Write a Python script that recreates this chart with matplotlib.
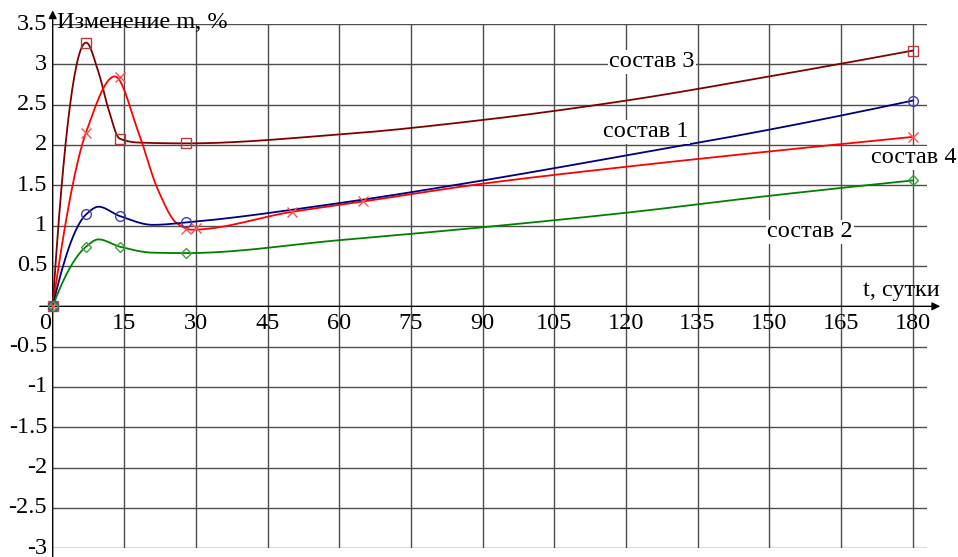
import numpy as np
import matplotlib
matplotlib.use("Agg")
import matplotlib.pyplot as plt

# measured points (days, mass change %) - shown with markers
t1 = [0, 7, 14, 28, 180]
m1 = [0, 1.14, 1.12, 1.04, 2.55]

t2 = [0, 7, 14, 28, 180]
m2 = [0, 0.73, 0.73, 0.66, 1.56]

t3 = [0, 7, 14, 28, 180]
m3 = [0, 3.27, 2.08, 2.02, 3.17]

t4 = [0, 7, 14, 28, 30, 50, 65, 180]
m4 = [0, 2.15, 2.84, 0.96, 0.97, 1.17, 1.30, 2.10]

# values
c1_t = [0, 7, 9.6, 14, 21, 28, 60, 90, 120, 150, 180]
c1_m = [0, 1.14, 1.235, 1.12, 1.01, 1.04, 1.28, 1.56, 1.87, 2.19, 2.55]

c2_t = [0, 7, 9.6, 14, 21, 28, 60, 90, 120, 150, 180]
c2_m = [0, 0.74, 0.83, 0.74, 0.665, 0.66, 0.82, 0.98, 1.16, 1.37, 1.56]

c3_t = [0, 7, 9.6, 11.7, 14, 18, 28, 60, 90, 120, 150, 180]
c3_m = [0, 3.27, 2.9, 2.44, 2.08, 2.03, 2.02, 2.13, 2.31, 2.55, 2.85, 3.17]

c4_t = [0, 7, 13, 18, 22, 26, 29, 50, 65, 90, 120, 150, 180]
c4_m = [0, 2.16, 2.85, 2.15, 1.45, 1.03, 0.95, 1.17, 1.30, 1.52, 1.73, 1.92, 2.10]

xticks = [15, 30, 45, 60, 75, 90, 105, 120, 135, 150, 165, 180]
yticks = [3.5, 3, 2.5, 2, 1.5, 1, 0.5, -0.5, -1, -1.5, -2, -2.5, -3]
ylabels = ["3.5", "3", "2.5", "2", "1.5", "1", "0.5",
           "-0.5", "-1", "-1.5", "-2", "-2.5", "-3"]


def end_slope(h0, h1, d0, d1):
    s = ((2 * h0 + h1) * d0 - h0 * d1) / (h0 + h1)
    if np.sign(s) != np.sign(d0):
        s = 0.0
    elif np.sign(d0) != np.sign(d1) and abs(s) > 3 * abs(d0):
        s = 3 * d0
    return s


def smooth(x, y, n=800):
    "monotone cubic (pchip) curve through the points"
    x = np.asarray(x, float)
    y = np.asarray(y, float)
    h = np.diff(x)
    delta = np.diff(y) / h
    d = np.zeros(len(x))
    for k in range(1, len(x) - 1):
        if delta[k - 1] * delta[k] > 0:
            w1 = 2 * h[k] + h[k - 1]
            w2 = h[k] + 2 * h[k - 1]
            d[k] = (w1 + w2) / (w1 / delta[k - 1] + w2 / delta[k])
    d[0] = end_slope(h[0], h[1], delta[0], delta[1])
    d[-1] = end_slope(h[-1], h[-2], delta[-1], delta[-2])
    xs = np.linspace(x[0], x[-1], n)
    j = np.clip(np.searchsorted(x, xs) - 1, 0, len(x) - 2)
    hj = h[j]
    s = (xs - x[j]) / hj
    h00 = 2 * s ** 3 - 3 * s ** 2 + 1
    h10 = s ** 3 - 2 * s ** 2 + s
    h01 = -2 * s ** 3 + 3 * s ** 2
    h11 = s ** 3 - s ** 2
    ys = h00 * y[j] + h10 * hj * d[j] + h01 * y[j + 1] + h11 * hj * d[j + 1]
    return xs, ys


plt.rcParams['font.family'] = ['Liberation Serif', 'DejaVu Serif']

fig = plt.figure(figsize=(9.58, 5.57), dpi=100)
ax = fig.add_axes([0.055, 0.0156, 0.9125, 0.9413])
ax.set_xlim(0, 183)
ax.set_ylim(-3, 3.5)
for s in ax.spines.values():
    s.set_visible(False)

# grid
for xv in xticks:
    ax.axvline(xv, color='0.3', lw=1.0, zorder=1)
for yv in yticks:
    ax.axhline(yv, color='0.3', lw=1.0, zorder=1)

ax.set_xticks([])
ax.set_yticks([])

# axes with arrows
ax.annotate('', xy=(185.8, 0), xytext=(-2.7, 0),
            arrowprops=dict(arrowstyle='-|>', color='black', lw=1.0,
                            mutation_scale=12, shrinkA=0, shrinkB=0),
            annotation_clip=False, zorder=2)
ax.annotate('', xy=(0, 3.67), xytext=(0, -3.12),
            arrowprops=dict(arrowstyle='-|>', color='black', lw=1.0,
                            mutation_scale=12, shrinkA=0, shrinkB=0),
            annotation_clip=False, zorder=2)

fs = 17.5
for yv, lab in zip(yticks, ylabels):
    ax.annotate(lab, (0, yv), xytext=(-4, 0), textcoords='offset points',
                ha='right', va='center', fontsize=fs, annotation_clip=False)
for xv in xticks:
    ax.annotate(str(xv), (xv, 0), xytext=(0, -5), textcoords='offset points',
                ha='center', va='top', fontsize=fs)
ax.annotate('0', (0, 0), xytext=(-1, -5), textcoords='offset points',
            ha='right', va='top', fontsize=fs, annotation_clip=False)

series = [
    (c3_t, c3_m, t3, m3, '#800000', 's', '#b04040'),
    (c4_t, c4_m, t4, m4, '#ff0000', 'x', '#ff5050'),
    (c1_t, c1_m, t1, m1, '#000080', 'o', '#4040b0'),
    (c2_t, c2_m, t2, m2, '#008000', 'D', '#40a040'),
]
for ct, cm, t, m, col, mk, mcol in series:
    xs, ys = smooth(ct, cm)
    ax.plot(xs, ys, color=col, lw=1.3, zorder=3, clip_on=False)
    ax.plot(t, m, linestyle='none', marker=mk, markersize=7 if mk != 'D' else 5.5,
            markerfacecolor='none', markeredgecolor=mcol, markeredgewidth=1.0,
            zorder=4, clip_on=False)

box = dict(facecolor='white', edgecolor='none', pad=1.0)
ax.text(125.4, 3.03, 'состав 3', fontsize=fs, ha='center', va='center', bbox=box, zorder=5)
ax.text(124.1, 2.165, 'состав 1', fontsize=fs, ha='center', va='center', bbox=box, zorder=5)
ax.text(180.2, 1.84, 'состав 4', fontsize=fs, ha='center', va='center', bbox=box, zorder=5)
ax.text(158.5, 0.925, 'состав 2', fontsize=fs, ha='center', va='center', bbox=box, zorder=5)
ax.text(185.6, 0.2, 't, сутки', fontsize=fs, ha='right', va='center', zorder=5)
ax.text(1, 3.52, 'Изменение m, %', fontsize=fs, ha='left', va='center', zorder=5)

fig.savefig('out.png', dpi=100)
